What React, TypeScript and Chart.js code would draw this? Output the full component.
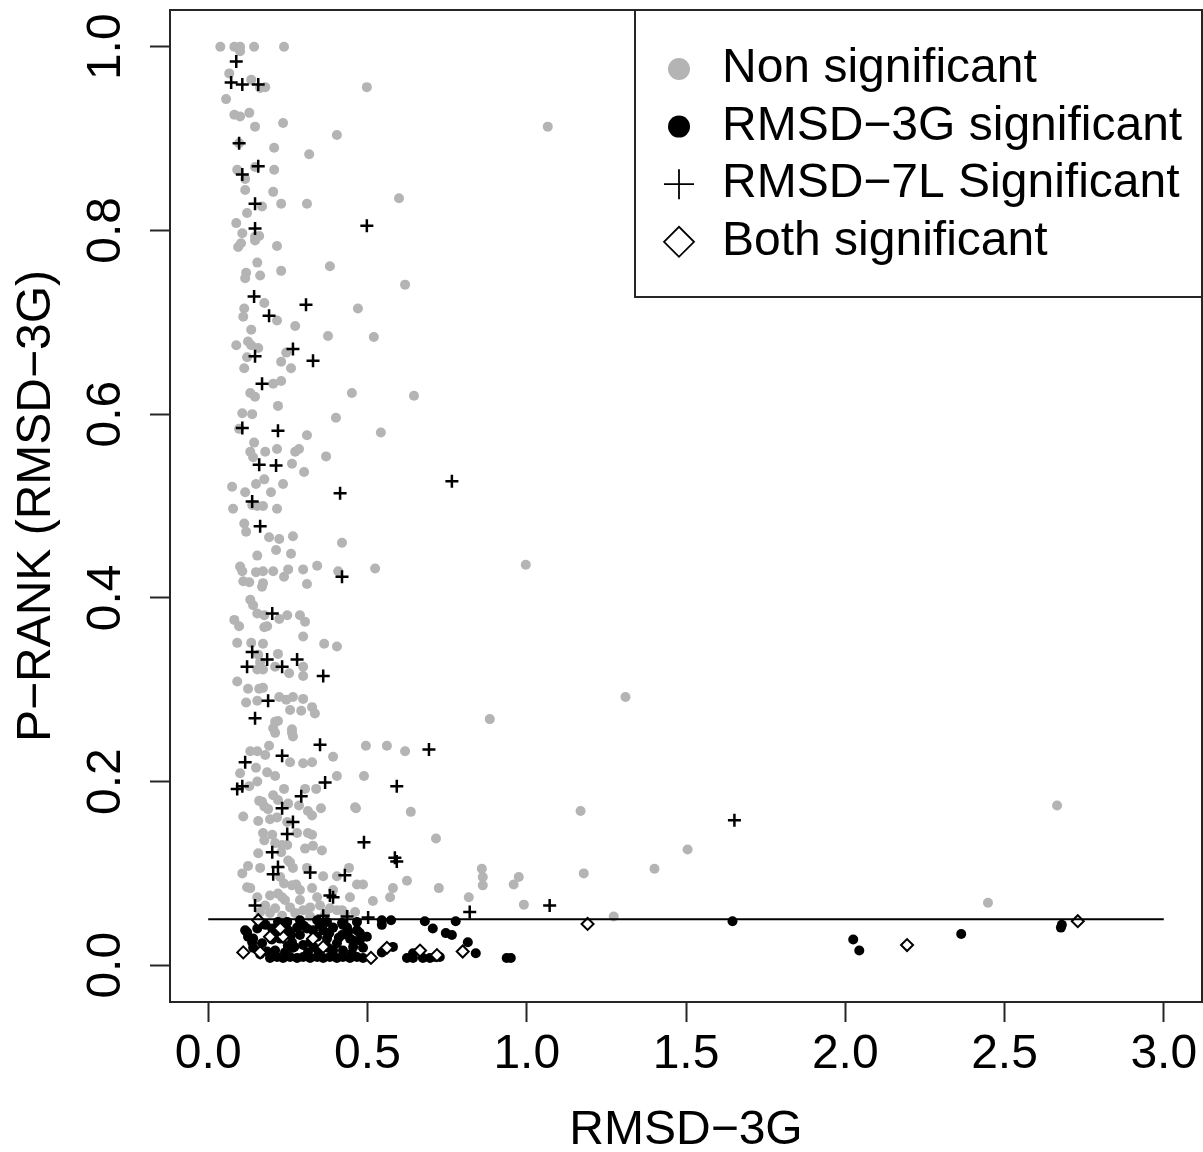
import React, { useEffect, useRef } from 'react';
import { Chart, registerables } from 'chart.js';

Chart.register(...registerables);

const FONT = '"Liberation Sans", Arial, Helvetica, sans-serif';

const X_TICKS = [0, 0.5, 1, 1.5, 2, 2.5, 3];
const X_TICK_LABELS = ['0.0', '0.5', '1.0', '1.5', '2.0', '2.5', '3.0'];
const Y_TICKS = [0, 0.2, 0.4, 0.6, 0.8, 1.0];
const Y_TICK_LABELS = ['0.0', '0.2', '0.4', '0.6', '0.8', '1.0'];
const X_TITLE = 'RMSD\u22123G';
const Y_TITLE = 'P\u2212RANK (RMSD\u22123G)';
const THRESHOLD_Y = 0.05;
const THRESHOLD_X = [0, 3];

const LEGEND_LABELS = ['Non significant', 'RMSD\u22123G significant', 'RMSD\u22127L Significant', 'Both significant'];

// Non significant (grey dots)
const nonSignificant: [number, number][] = [
  [0.038, 1.0], [0.082, 1.0], [0.1, 1.0], [0.144, 1.0], [0.238, 1.0], [0.1, 0.995], [0.066, 0.971], [0.135, 0.964],
  [0.163, 0.955], [0.179, 0.956], [0.498, 0.956], [0.056, 0.943], [0.082, 0.926], [0.1, 0.924], [0.129, 0.928],
  [0.147, 0.913], [0.235, 0.917], [0.404, 0.904], [0.097, 0.895], [0.207, 0.89], [0.317, 0.883], [0.091, 0.866],
  [0.147, 0.869], [0.207, 0.866], [0.116, 0.856], [0.116, 0.844], [0.204, 0.842], [0.169, 0.826], [0.229, 0.829],
  [0.31, 0.829], [0.599, 0.835], [0.122, 0.819], [0.088, 0.808], [0.107, 0.797], [0.147, 0.793], [0.16, 0.794],
  [0.094, 0.782], [0.216, 0.783], [1.066, 0.913],
  [0.103, 0.786], [0.147, 0.789], [0.154, 0.765], [0.119, 0.754], [0.116, 0.748], [0.163, 0.751], [0.229, 0.756],
  [0.382, 0.761], [0.618, 0.741], [0.176, 0.721], [0.113, 0.715], [0.11, 0.706], [0.216, 0.702], [0.273, 0.696],
  [0.47, 0.715], [0.135, 0.692], [0.376, 0.685], [0.52, 0.684], [0.088, 0.675], [0.125, 0.679], [0.135, 0.675],
  [0.157, 0.672], [0.122, 0.662], [0.245, 0.667], [0.229, 0.657], [0.113, 0.65], [0.26, 0.65], [0.204, 0.633],
  [0.229, 0.636], [0.132, 0.623], [0.147, 0.619], [0.451, 0.623], [0.646, 0.62], [0.219, 0.609], [0.107, 0.601],
  [0.138, 0.6], [0.401, 0.596], [0.31, 0.577], [0.542, 0.58], [0.097, 0.584], [0.144, 0.569], [0.132, 0.559],
  [0.179, 0.559], [0.216, 0.562], [0.141, 0.553], [0.273, 0.559], [0.285, 0.562], [0.37, 0.554], [0.263, 0.546],
  [0.301, 0.537], [0.176, 0.529], [0.15, 0.524], [0.235, 0.524], [0.075, 0.521],
  [0.116, 0.515], [0.197, 0.515], [0.078, 0.497], [0.138, 0.501], [0.154, 0.5], [0.172, 0.5], [0.216, 0.497],
  [0.113, 0.481], [0.119, 0.472], [0.191, 0.466], [0.223, 0.464], [0.266, 0.467], [0.42, 0.46], [0.154, 0.446],
  [0.213, 0.452], [0.26, 0.448], [0.1, 0.434], [0.107, 0.429], [0.15, 0.428], [0.172, 0.429], [0.204, 0.429],
  [0.251, 0.431], [0.298, 0.431], [0.342, 0.435], [0.408, 0.429], [0.524, 0.432], [0.238, 0.423], [0.11, 0.418],
  [0.129, 0.417], [0.172, 0.416], [0.169, 0.412], [0.31, 0.415], [0.132, 0.398], [0.141, 0.392], [0.154, 0.383],
  [0.176, 0.381], [0.223, 0.377], [0.248, 0.381], [0.288, 0.381], [0.304, 0.374], [0.082, 0.376], [0.097, 0.369],
  [0.176, 0.368], [0.185, 0.369], [0.298, 0.358], [0.091, 0.351], [0.135, 0.351], [0.172, 0.35], [0.364, 0.35],
  [0.404, 0.347], [0.219, 0.339], [0.157, 0.338], [0.163, 0.33], [0.154, 0.322], [0.172, 0.322], [0.21, 0.325],
  [0.254, 0.318], [0.298, 0.325], [0.298, 0.315], [0.091, 0.309], [0.125, 0.301], [0.16, 0.301], [0.172, 0.302],
  [0.119, 0.286], [0.154, 0.288], [0.223, 0.292], [0.245, 0.289], [0.257, 0.278], [0.266, 0.292], [0.298, 0.29],
  [0.292, 0.277], [0.326, 0.281], [0.335, 0.274], [0.21, 0.265], [0.219, 0.266], [0.263, 0.257], [0.204, 0.258],
  [0.997, 0.436],
  [0.21, 0.253], [0.263, 0.253], [0.266, 0.249], [0.132, 0.233], [0.154, 0.233], [0.179, 0.229], [0.191, 0.239],
  [0.257, 0.221], [0.298, 0.22], [0.326, 0.221], [0.392, 0.227], [0.495, 0.239], [0.561, 0.239], [0.618, 0.233],
  [0.1, 0.209], [0.15, 0.215], [0.185, 0.21], [0.21, 0.206], [0.404, 0.206], [0.489, 0.206], [0.129, 0.195],
  [0.154, 0.2], [0.238, 0.192], [0.304, 0.192], [0.339, 0.192], [0.204, 0.185], [0.16, 0.179], [0.176, 0.173],
  [0.188, 0.17], [0.219, 0.18], [0.251, 0.176], [0.285, 0.174], [0.313, 0.168], [0.326, 0.163], [0.354, 0.171],
  [0.464, 0.171], [0.636, 0.167], [0.11, 0.162], [0.157, 0.157], [0.194, 0.159], [0.216, 0.161], [0.248, 0.156],
  [0.172, 0.144], [0.201, 0.142], [0.176, 0.136], [0.21, 0.133], [0.232, 0.131], [0.248, 0.131], [0.279, 0.144],
  [0.313, 0.144], [0.326, 0.142], [0.715, 0.138], [0.157, 0.122], [0.229, 0.123], [0.304, 0.127], [0.329, 0.13],
  [0.357, 0.125], [0.125, 0.108], [0.163, 0.106], [0.107, 0.1], [0.251, 0.114], [0.266, 0.106], [0.31, 0.106],
  [0.361, 0.097], [0.404, 0.097], [0.442, 0.106], [0.467, 0.088], [0.486, 0.088], [0.58, 0.084], [0.624, 0.092],
  [0.724, 0.084], [0.122, 0.085], [0.132, 0.084], [0.238, 0.089], [0.263, 0.087], [0.276, 0.088], [0.326, 0.084],
  [0.154, 0.074], [0.194, 0.076], [0.219, 0.078], [0.232, 0.074], [0.392, 0.082], [0.445, 0.074], [0.571, 0.074],
  [0.21, 0.062], [0.257, 0.063], [0.298, 0.06], [0.32, 0.063], [0.382, 0.062], [0.404, 0.06], [0.342, 0.074],
  [0.288, 0.082], [0.226, 0.096], [0.257, 0.112], [0.169, 0.178], [0.461, 0.172], [0.517, 0.07], [0.818, 0.074],
  [0.42, 0.06], [0.859, 0.105], [0.862, 0.096], [0.862, 0.087], [0.975, 0.096], [0.959, 0.088], [1.179, 0.1],
  [1.401, 0.105], [0.991, 0.066], [1.273, 0.053], [1.31, 0.292], [0.884, 0.268], [1.169, 0.168], [1.505, 0.126],
  [2.665, 0.174], [2.448, 0.068],
  [0.179, 0.065], [0.241, 0.071], [0.288, 0.071], [0.351, 0.065], [0.163, 0.058], [0.273, 0.057], [0.367, 0.056],
  [0.429, 0.056], [0.461, 0.058], [0.194, 0.057], [0.232, 0.054], [0.32, 0.053],
];

// RMSD-3G significant (black dots)
const rmsd3gSignificant: [number, number][] = [
  [0.219, 0.047], [0.248, 0.047], [0.288, 0.049], [0.342, 0.049], [0.373, 0.047], [0.42, 0.046], [0.467, 0.047],
  [0.545, 0.049], [0.574, 0.049], [0.68, 0.048], [0.777, 0.048],
  [0.545, 0.044], [0.122, 0.036], [0.154, 0.04], [0.201, 0.04], [0.216, 0.035], [0.251, 0.038], [0.279, 0.041],
  [0.31, 0.04], [0.329, 0.038], [0.361, 0.038], [0.392, 0.041], [0.436, 0.041], [0.467, 0.038], [0.705, 0.04],
  [0.746, 0.035], [0.765, 0.033], [0.423, 0.044], [0.476, 0.035], [0.116, 0.038], [0.125, 0.031], [0.138, 0.025],
  [0.169, 0.024],
  [0.141, 0.029], [0.226, 0.029], [0.263, 0.025], [0.288, 0.033], [0.298, 0.022], [0.342, 0.031], [0.373, 0.029],
  [0.404, 0.024], [0.42, 0.033], [0.445, 0.029], [0.476, 0.027], [0.498, 0.031], [0.455, 0.027], [0.815, 0.025],
  [0.141, 0.019], [0.185, 0.015], [0.21, 0.016], [0.241, 0.014], [0.266, 0.019], [0.313, 0.014], [0.345, 0.016],
  [0.376, 0.019], [0.423, 0.016], [0.455, 0.02], [0.486, 0.019], [0.545, 0.014], [0.58, 0.02], [0.643, 0.013],
  [0.84, 0.013], [0.392, 0.016], [0.451, 0.013],
  [0.163, 0.012], [0.194, 0.008], [0.216, 0.009], [0.235, 0.008], [0.257, 0.009], [0.279, 0.008], [0.298, 0.009],
  [0.32, 0.008], [0.342, 0.009], [0.361, 0.008], [0.382, 0.009], [0.404, 0.008], [0.423, 0.009], [0.445, 0.008],
  [0.467, 0.009], [0.486, 0.008], [0.624, 0.008], [0.643, 0.008], [0.674, 0.008], [0.696, 0.008], [0.712, 0.009],
  [0.727, 0.009], [0.937, 0.008], [0.95, 0.008],
  [0.18, 0.044], [0.2, 0.028], [0.23, 0.045], [0.26, 0.033], [0.3, 0.043], [0.32, 0.025], [0.35, 0.044],
  [0.38, 0.035], [0.41, 0.03], [0.44, 0.037], [0.27, 0.02], [0.33, 0.02], [0.25, 0.021],
  [1.646, 0.048], [2.025, 0.028], [2.044, 0.016], [2.364, 0.034], [2.677, 0.041], [2.68, 0.044],
];

// RMSD-7L significant (plus signs)
const rmsd7lSignificant: [number, number][] = [
  [0.088, 0.984], [0.072, 0.961], [0.107, 0.959], [0.157, 0.959], [0.097, 0.895], [0.157, 0.87], [0.107, 0.861],
  [0.147, 0.829], [0.498, 0.805], [0.147, 0.802], [0.144, 0.728], [0.307, 0.719], [0.191, 0.707], [0.266, 0.671],
  [0.147, 0.663], [0.329, 0.658], [0.169, 0.633], [0.107, 0.585], [0.219, 0.582], [0.16, 0.545], [0.213, 0.544],
  [0.765, 0.527], [0.414, 0.514], [0.138, 0.505], [0.163, 0.478], [0.42, 0.423], [0.201, 0.383], [0.138, 0.341],
  [0.185, 0.333], [0.279, 0.333], [0.122, 0.325], [0.232, 0.325], [0.361, 0.315], [0.188, 0.288], [0.147, 0.269],
  [0.351, 0.24], [0.693, 0.235], [0.232, 0.228], [0.116, 0.221], [0.091, 0.192], [0.107, 0.195], [0.367, 0.199],
  [0.592, 0.195], [0.292, 0.184], [0.232, 0.171], [0.266, 0.156], [0.248, 0.143], [0.489, 0.134], [0.201, 0.123],
  [0.586, 0.117], [0.592, 0.113], [0.219, 0.107], [0.429, 0.098], [0.204, 0.099], [0.32, 0.101], [0.382, 0.076],
  [0.392, 0.074], [0.147, 0.065], [0.361, 0.054], [0.436, 0.053], [0.502, 0.052], [0.821, 0.058], [1.072, 0.065],
  [1.652, 0.158],
];

// Both significant (open diamonds)
const bothSignificant: [number, number][] = [
  [0.157, 0.049], [0.194, 0.031], [0.235, 0.031], [0.11, 0.014], [0.163, 0.014], [0.329, 0.029], [0.361, 0.02],
  [0.226, 0.04], [0.561, 0.019], [0.665, 0.016], [0.718, 0.011], [0.511, 0.008], [0.799, 0.015], [1.191, 0.045],
  [2.194, 0.022], [2.73, 0.048],
];

const toPts = (arr: [number, number][]) => arr.map(([x, y]) => ({ x, y }));

const GREY = '#b4b4b4';
const FRAME = '#262626';

const framePlugin = {
  id: 'frameAndLegend',
  afterDraw(chart: any) {
    const { ctx, chartArea: a } = chart;
    ctx.save();
    ctx.strokeStyle = FRAME;
    ctx.lineWidth = 2;
    ctx.strokeRect(a.left, a.top, a.right - a.left, a.bottom - a.top);

    // legend box
    const lx = 635;
    const lb = 297;
    ctx.fillStyle = '#fff';
    ctx.fillRect(lx, a.top, a.right - lx, lb - a.top);
    ctx.strokeRect(lx, a.top, a.right - lx, lb - a.top);

    const symX = 679;
    const textX = 722;
    const rowY = (i: number) => 69 + i * 57.6;
    ctx.font = `48px ${FONT}`;
    ctx.textBaseline = 'middle';
    ctx.textAlign = 'left';
    LEGEND_LABELS.forEach((label, i) => {
      const y = rowY(i);
      ctx.beginPath();
      if (i === 0 || i === 1) {
        ctx.fillStyle = i === 0 ? GREY : '#000';
        ctx.arc(symX, y, 11, 0, Math.PI * 2);
        ctx.fill();
      } else if (i === 2) {
        ctx.strokeStyle = '#000';
        ctx.lineWidth = 1.8;
        ctx.moveTo(symX - 15, y);
        ctx.lineTo(symX + 15, y);
        ctx.moveTo(symX, y - 15);
        ctx.lineTo(symX, y + 15);
        ctx.stroke();
      } else {
        ctx.strokeStyle = '#000';
        ctx.lineWidth = 1.8;
        ctx.moveTo(symX - 15, y);
        ctx.lineTo(symX, y - 15);
        ctx.lineTo(symX + 15, y);
        ctx.lineTo(symX, y + 15);
        ctx.closePath();
        ctx.stroke();
      }
      ctx.fillStyle = '#000';
      ctx.fillText(label, textX, y);
    });
    ctx.restore();
  },
};

export default function App() {
  const ref = useRef<HTMLCanvasElement | null>(null);

  useEffect(() => {
    if (!ref.current) return;
    Chart.defaults.font.family = FONT;
    Chart.defaults.color = '#000';
    const chart = new Chart(ref.current, {
      type: 'scatter',
      data: {
        datasets: [
          {
            label: 'threshold',
            data: THRESHOLD_X.map((x) => ({ x, y: THRESHOLD_Y })),
            showLine: true,
            borderColor: '#000',
            borderWidth: 2,
            pointRadius: 0,
            fill: false,
          },
          {
            label: LEGEND_LABELS[3],
            data: toPts(bothSignificant),
            pointStyle: 'rectRot',
            pointRadius: 6,
            pointBackgroundColor: '#fff',
            pointBorderColor: '#000',
            pointBorderWidth: 2,
          },
          {
            label: LEGEND_LABELS[2],
            data: toPts(rmsd7lSignificant),
            pointStyle: 'cross',
            pointRadius: 6.5,
            pointBorderColor: '#000',
            pointBorderWidth: 2.5,
          },
          {
            label: LEGEND_LABELS[1],
            data: toPts(rmsd3gSignificant),
            pointStyle: 'circle',
            pointRadius: 5,
            pointBackgroundColor: '#000',
            pointBorderWidth: 0,
          },
          {
            label: LEGEND_LABELS[0],
            data: toPts(nonSignificant),
            pointStyle: 'circle',
            pointRadius: 5,
            pointBackgroundColor: GREY,
            pointBorderWidth: 0,
          },
        ],
      } as any,
      options: {
        responsive: false,
        animation: false,
        events: [],
        layout: { autoPadding: false, padding: { top: 10, right: 1, bottom: 0, left: 0 } },
        plugins: { legend: { display: false }, tooltip: { enabled: false } },
        scales: {
          x: {
            type: 'linear',
            min: -0.12,
            max: 3.12,
            afterBuildTicks: (s: any) => {
              s.ticks = X_TICKS.map((v) => ({ value: v }));
            },
            afterFit: (s: any) => {
              s.height = 150;
              s.paddingLeft = 0;
              s.paddingRight = 0;
            },
            ticks: {
              autoSkip: false,
              minRotation: 0,
              maxRotation: 0,
              padding: 4,
              color: '#000',
              font: { size: 48, family: FONT },
              callback: (_v: any, i: number) => X_TICK_LABELS[i],
            },
            grid: { display: true, drawOnChartArea: false, drawTicks: true, tickLength: 20, tickWidth: 2, tickColor: FRAME },
            border: { display: true, color: FRAME, width: 2 },
            title: { display: true, text: X_TITLE, color: '#000', font: { size: 48, family: FONT, lineHeight: 0.9 }, padding: 0 },
          },
          y: {
            type: 'linear',
            min: -0.04,
            max: 1.04,
            afterBuildTicks: (s: any) => {
              s.ticks = Y_TICKS.map((v) => ({ value: v }));
            },
            afterFit: (s: any) => {
              s.width = 170;
              s.paddingTop = 0;
              s.paddingBottom = 0;
            },
            ticks: {
              autoSkip: false,
              minRotation: 90,
              maxRotation: 90,
              crossAlign: 'center',
              padding: 10,
              color: '#000',
              font: { size: 48, family: FONT },
              callback: (_v: any, i: number) => Y_TICK_LABELS[i],
            },
            grid: { display: true, drawOnChartArea: false, drawTicks: true, tickLength: 20, tickWidth: 2, tickColor: FRAME },
            border: { display: true, color: FRAME, width: 2 },
            title: { display: true, text: Y_TITLE, color: '#000', font: { size: 48, family: FONT, lineHeight: 1.2 }, padding: { top: 8, bottom: 0 } },
          },
        },
      } as any,
      plugins: [framePlugin],
    });
    return () => chart.destroy();
  }, []);

  return (
    <div style={{ position: 'absolute', left: 0, top: 0, width: 1203, height: 1152, background: '#fff' }}>
      <canvas ref={ref} width={1203} height={1152} style={{ display: 'block' }} />
    </div>
  );
}
